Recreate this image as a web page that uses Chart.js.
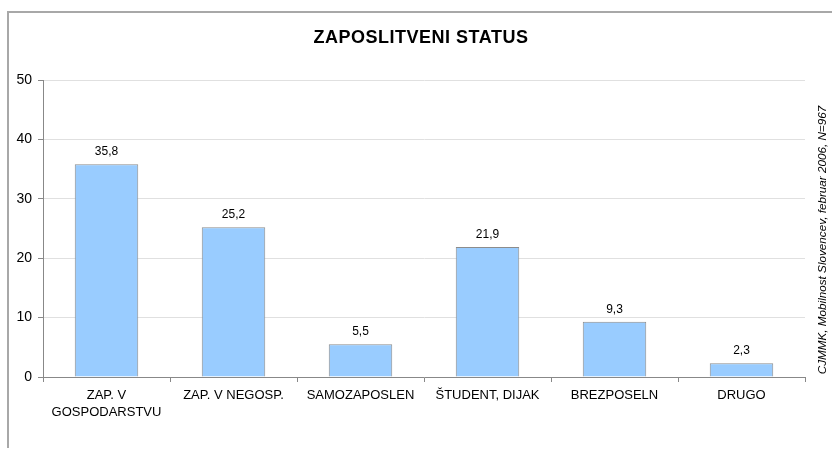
<!DOCTYPE html>
<html>
<head>
<meta charset="utf-8">
<script src="https://cdn.jsdelivr.net/npm/chart.js@4/dist/chart.umd.min.js"></script>
<style>
    html, body { margin: 0; padding: 0; background: #fff; }
    #wrap { width: 832px; height: 454px; position: relative; }
</style>
</head>
<body>
<div id="wrap"><canvas id="chart" width="832" height="454"></canvas></div>
<script>
// Data
const categories = [
    ["ZAP. V", "GOSPODARSTVU"],
    "ZAP. V NEGOSP.",
    "SAMOZAPOSLEN",
    "ŠTUDENT, DIJAK",
    "BREZPOSELN",
    "DRUGO",
];
const values = [35.8, 25.2, 5.5, 21.9, 9.3, 2.3];
const yTicks = [0, 10, 20, 30, 40, 50];
const chartTitle = "ZAPOSLITVENI STATUS";
const sourceNote = "CJMMK, Mobilnost Slovencev, februar 2006, N=967";

const FONT = "'Liberation Sans', Arial, sans-serif";

/**
 * Frame, title, rotated source note and value labels
 */
const decorations = {
    id: "decorations",
    beforeDraw(chart) {
        const ctx = chart.ctx;
        ctx.save();
        ctx.strokeStyle = "#a8a8a8";
        ctx.lineWidth = 2;
        ctx.beginPath();
        ctx.moveTo(8, 448);
        ctx.lineTo(8, 12);
        ctx.lineTo(832, 12);
        ctx.stroke();
        ctx.restore();
    },
    afterDatasetsDraw(chart) {
        const ctx = chart.ctx;
        ctx.save();

        // title
        ctx.fillStyle = "#000";
        ctx.font = "bold 18px " + FONT;
        ctx.letterSpacing = "0.5px";
        ctx.textAlign = "center";
        ctx.textBaseline = "middle";
        ctx.fillText(chartTitle, 421, 38);
        ctx.letterSpacing = "0px";

        // value labels above bars
        ctx.font = "12px " + FONT;
        ctx.textBaseline = "alphabetic";
        chart.getDatasetMeta(0).data.forEach((bar, i) => {
            const label = values[i].toFixed(1).replace(".", ",");
            ctx.fillText(label, bar.x, bar.y - 9);
        });

        // rotated source note
        ctx.translate(823, 240);
        ctx.rotate(-Math.PI / 2);
        ctx.font = "italic 11.7px " + FONT;
        ctx.textBaseline = "middle";
        ctx.fillText(sourceNote, 0, 0);
        ctx.restore();
    },
};

new Chart(document.getElementById("chart"), {
    type: "bar",
    data: {
        labels: categories,
        datasets: [
            {
                data: values,
                backgroundColor: "#99ccff",
                borderColor: "#8c8c8c",
                borderWidth: 1,
                barPercentage: 0.5,
                categoryPercentage: 1,
            },
        ],
    },
    options: {
        responsive: false,
        animation: false,
        layout: {
            padding: { top: 80, right: 27, left: 0, bottom: 0 },
        },
        scales: {
            x: {
                grid: {
                    offset: true,
                    drawOnChartArea: false,
                    tickLength: 5,
                    tickColor: "#888",
                },
                border: { color: "#888" },
                ticks: {
                    color: "#000",
                    padding: 5,
                    maxRotation: 0,
                    autoSkip: false,
                    font: { family: FONT, size: 13, lineHeight: 1.3 },
                },
                afterFit(scale) {
                    scale.height = 77;
                },
            },
            y: {
                min: 0,
                max: 50,
                afterBuildTicks(scale) {
                    scale.ticks = yTicks.map((v) => ({ value: v }));
                },
                grid: {
                    color: "#e0e0e0",
                    tickLength: 5,
                    tickColor: "#888",
                },
                border: { color: "#888" },
                ticks: {
                    color: "#000",
                    padding: 6,
                    font: { family: FONT, size: 14 },
                },
                afterFit(scale) {
                    scale.width = 43;
                },
            },
        },
        plugins: {
            legend: { display: false },
            title: { display: false },
            tooltip: { enabled: false },
        },
    },
    plugins: [decorations],
});
</script>
</body>
</html>
